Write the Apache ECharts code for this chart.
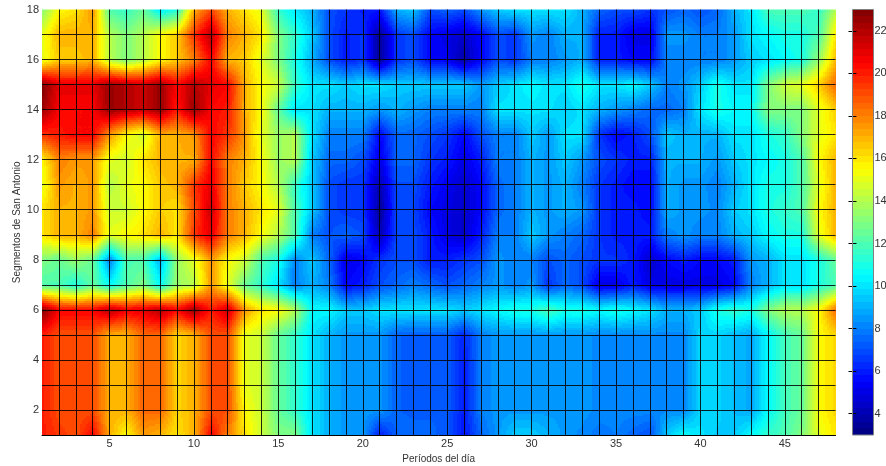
<!DOCTYPE html>
<html><head><meta charset="utf-8">
<style>html,body{margin:0;padding:0;background:#fff}#c{width:886px;height:466px}</style>
<script src="https://cdn.jsdelivr.net/npm/echarts@6/dist/echarts.min.js"></script>
</head><body><div id="c"></div>
<script>
const row1 =[20,19.5,19,20.5,17,15.5,17.5,17,16,17, 20.5,18,16,14.5,13,13,10,9,8.5,8.5, 6,7.5,7.5,7.5,7.2,5.8,7.5,8.5,9.5,9.5, 9,8.5,8.2,7.8,8,7.5,7,9.5,10.5,10, 9.5,9.5,10.5,11.5,12,13,15,16];
const row2 =[20,19,19,19,17,17,18.5,18.5,16.3,17, 19,19,15.5,14.5,12.5,11.5,10,9,8.5,8.5, 8.5,7.4,7.3,7.3,7.3,6,8,8.5,8.5,8.5, 8.5,8.5,8.5,8.2,8.2,8.2,8.2,8.2,8.2,9.7, 9.7,9.2,8.8,10.5,11.8,12.5,15.5,16.3];
const row3 =[20,19,19,19,17,17,18.5,18.5,16.3,17, 19,19,15,14.5,12.5,11.5,10,9,8.5,8.5, 8.5,7.4,7.3,7.3,7.3,6,8,8.5,8.5,8.5, 8.5,8.5,8.5,8.2,8.2,8.2,8.2,8.2,8.2,9.7, 9.7,9.2,8.8,10.5,11.8,12.5,15.5,16.3];
const row4 =[20,19,19,19,17,17,18.5,18.5,16.3,17, 19,19,15,14.5,12.5,11.5,10,9,8.5,8.5, 8.5,7.4,7.3,7.3,7.3,6,8,8.5,8.5,8.5, 8.5,8.5,8.5,8.2,8.2,8.2,8.2,8.2,8.2,9.7, 9.7,9.2,8.8,10.5,11.8,12.5,15.5,16.3];
const row5 =[20,19,19,19,17,17,18.5,18.5,16.3,17, 19,19,15,14.5,12.5,11.5,10,9,8.5,8.5, 8.5,7.4,7.3,7.3,7.3,6.2,8,8.5,8.5,8.5, 8.5,8.5,8.5,8.2,8.2,8.2,8.2,8.2,8.2,9.7, 9.7,9.2,8.8,10.5,11.8,12.5,15.5,16.3];
const row6 =[23,20.5,20.5,20.5,22,20.8,21,22,20.5,22.5, 20,21.5,17.5,16,15.5,14,10.5,10.5,9.5,9.5, 10,10,10,10,10,9.5,10,10.5,11,11, 12,11,11,10.5,11,10.5,10,9,9,9.5, 11,11.5,11,13,14,14,15.5,18.5];
const row7 =[12,12,11,12.5,10.5,12,13,10.5,13.5,14, 17.5,15,12.5,11.5,10,8,9,8,5.5,6, 7,7.5,8,7.5,7,7.5,8,8.5,8,8.5, 6.5,7.5,7,5,5,6,5,5,5,5, 5,5.5,8,9,10,10,11,12];
const row8 =[13,12.5,13.5,12.5,8,12,12,9,13.5,15, 17.5,15.5,14.5,12,11,8,9.5,7.5,5,5.5, 6.5,7,7,6,6,6.5,7,8.5,8,8, 7,7.5,7,6.5,6.5,6,4.5,5.5,6,5.5, 5.5,6,8.5,9,10,10,11,12.5];
const row9 =[16,17,17,18,15,15.5,16,17,16,19.5, 21,18,17,15.5,14,12,8,7,7.5,7, 4,7,7,6,5,4.5,6,8,8,9.5, 8.5,8,7.5,6.5,6,6,6,8,8.5,8, 8,9,9.5,10.5,11,11,15,17];
const row10=[16,17,17,17.5,14.5,14.5,15.5,16.5,16,19, 21.5,18,17,16,15,12,9.5,7,6.5,6.5, 3.5,7,6.8,5.5,5,4.5,5.5,7.5,8,9, 8.5,9,8.5,6.5,6,6,5.5,9,8.5,8.5, 8.2,9.5,10,11,11.5,12,15.5,17];
const row11=[15,17.5,17,17.5,14,15,15.5,16.5,17,19.5, 21,18,16.5,15.5,14,11.5,9.5,7,6.5,6.5, 4,7,7,6,5.2,4.5,5.5,7.5,8,9, 8.5,9,8,6.5,6,5.5,5.5,9,8.5,8.5, 8,9,10,11,11,12,15,17];
const row12=[15.5,18,17.5,17.5,15,14.5,16,17,17,17, 20.5,18,17,15.5,13.5,14,9.5,7.5,7.5,7, 5,7.5,7.5,6.5,6,5,6,8,8,9, 8.5,9.5,8.5,7,6.5,6,6,9,9,9, 8.5,9.5,10,10.5,11,12,15.5,17];
const row13=[19.5,20,20.5,20.5,17.5,15.5,14.5,17,17,17.5, 20.5,19.5,17.5,15,13.5,14,10,8,8,8, 5.5,7.5,7.5,7,6.5,5.5,7,8,8,9.5, 8.5,10,10,6.5,5.5,6,7,9.5,9,9, 9,10,10,11,11.5,13,15,16];
const row14=[22.5,20.5,20.5,20.5,22.5,22,21.5,22.5,20,22.5, 20.5,20,17,15.5,12.5,10,10,9,9,9, 8.5,9,8.5,8,8,8,8,10,10,10, 10,9.5,10,9,8.5,8,7.5,7.5,8,10, 11,10.5,10.5,13,13,13,15,16.5];
const row15=[23,21,21,21,22.5,22,21.5,22.5,20.5,22, 21,20.5,17,15.5,14.5,11.5,10,10,9.5,10, 10,9.5,9.5,9.5,9.5,9.5,8.5,9.5,10,10.5, 10,10,11,10,10,10.5,9.5,8,8.5,9.5, 11,10,10,13,14.5,15,16.5,18.5];
const row16=[15,16.5,16.5,17,14,13,14,15.5,16.5,18, 20.5,17,16.5,15,13,11,9,7,6,6.5, 3.5,6.5,7,5.5,5.3,3.8,5.5,7,6.5,8, 8,8.5,9,6,6,5.5,5.5,8,8,8, 8,8.5,9.5,10,10.5,11,13.5,17];
const row17=[15,17,17,17,14,13,14,15.5,16.5,19.5, 22,18,17,16,13,11.5,9.5,7,6,6.5, 3.5,6.5,7,5.5,5,4.5,5.5,7,6.5,8.5, 8,9,9,6,6,5,5,8.5,8.5,8, 8,8.5,10,10.5,11,11,12,16];
const row18=[13,15.5,16,17.5,12,11.5,12.5,10,11,17, 19,17,16,15,11.5,10,9,7,6.5,6, 6,9,9.5,7,7.5,7,8.5,9.5,10,10, 10,10,9,7.5,7,7,6.5,7,7.5,7, 7.5,9,10,12,12,12,11.5,14];
const rows=[row1,row2,row3,row4,row5,row6,row7,row8,row9,row10,row11,row12,row13,row14,row15,row16,row17,row18];
const periodTicks=[5,10,15,20,25,30,35,40,45];
const segmentTicks=[2,4,6,8,10,12,14,16,18];
const colorTicks=[4,6,8,10,12,14,16,18,20,22];
const xLabel='Períodos del día';
const yLabel='Segmentos de San Antonio';
const cMin=3,cMax=23,levels=64;

function jet(v){
  let t=(v-cMin)/(cMax-cMin);
  t=Math.max(0,Math.min(0.9999,t));
  t=(Math.floor(t*levels)+0.5)/levels;
  const f=(a)=>Math.max(0,Math.min(1,1.5-Math.abs(4*t-a)));
  return 'rgb('+Math.round(255*f(3))+','+Math.round(255*f(2))+','+Math.round(255*f(1))+')';
}
const cells=[];
for(let j=0;j<rows.length-1;j++)for(let i=0;i<47;i++)
  cells.push([i+1,j+1,rows[j][i],rows[j][i+1],rows[j+1][i],rows[j+1][i+1]]);
const colorLevels=[];
for(let k=0;k<levels;k++)colorLevels.push(cMin+(cMax-cMin)*k/levels);

const chart=echarts.init(document.getElementById('c'),null,{renderer:'canvas'});
const font='"Liberation Sans",Arial,sans-serif';
const sub=2;
chart.setOption({
  animation:false,
  backgroundColor:'#fff',
  grid:[
    {left:42,top:9.5,width:793.5,height:425.5,containLabel:false,outerBoundsMode:'none'},
    {left:852.5,top:9.5,width:21,height:425.5,show:true,borderColor:'#808080',borderWidth:1,z:10,outerBoundsMode:'none'}
  ],
  xAxis:[
    {gridIndex:0,type:'value',min:1,max:48,interval:1,z:5,
     name:xLabel,nameLocation:'middle',nameGap:17,nameTextStyle:{fontFamily:font,fontSize:10,color:'#333'},
     axisLine:{show:true,onZero:false,lineStyle:{color:'#000',width:1}},axisTick:{show:false},
     axisLabel:{fontFamily:font,fontSize:11,color:'#333',margin:3,showMinLabel:false,
       formatter:v=>periodTicks.includes(v)?String(v):''},
     splitLine:{show:true,showMinLine:false,showMaxLine:false,lineStyle:{color:'rgba(0,0,0,0.85)',width:1}}},
    {gridIndex:1,type:'value',min:0,max:1,show:false}
  ],
  yAxis:[
    {gridIndex:0,type:'value',min:1,max:18,interval:1,z:5,
     name:yLabel,nameLocation:'middle',nameGap:20,nameMoveOverlap:false,nameTextStyle:{fontFamily:font,fontSize:10,color:'#333'},
     axisLine:{show:false},axisTick:{show:false},
     axisLabel:{fontFamily:font,fontSize:11,color:'#333',margin:3,
       formatter:v=>segmentTicks.includes(v)?String(v):''},
     splitLine:{show:true,showMinLine:false,showMaxLine:false,lineStyle:{color:'rgba(0,0,0,0.85)',width:1}}},
    {gridIndex:1,type:'value',min:cMin,max:cMax,position:'right',z:6,
     axisLine:{show:false},
     axisTick:{show:true,inside:true,length:4,lineStyle:{color:'#000'},customValues:colorTicks},
     axisLabel:{fontFamily:font,fontSize:11,color:'#333',margin:1,customValues:colorTicks},
     splitLine:{show:false}},
    {gridIndex:1,type:'value',min:cMin,max:cMax,position:'left',z:6,
     axisLine:{show:false},
     axisTick:{show:true,inside:true,length:4,lineStyle:{color:'#000'},customValues:colorTicks},
     axisLabel:{show:false},splitLine:{show:false}}
  ],
  series:[
    {type:'custom',xAxisIndex:0,yAxisIndex:0,silent:true,clip:true,z:2,
     data:cells,encode:{x:0,y:1},
     renderItem:function(params,api){
       const i=api.value(0),j=api.value(1);
       const a=api.value(2),b=api.value(3),c=api.value(4),d=api.value(5);
       const p0=api.coord([i,j]),p1=api.coord([i+1,j+1]);
       const x0=Math.round(p0[0]),x1=Math.round(p1[0]),y0=Math.round(p0[1]),y1=Math.round(p1[1]);
       const children=[];
       for(let py=y1;py<y0;py+=sub){
         const hh=Math.min(sub,y0-py);
         const v=(y0-(py+hh/2))/(y0-y1);
         for(let px=x0;px<x1;px+=sub){
           const ww=Math.min(sub,x1-px);
           const u=(px+ww/2-x0)/(x1-x0);
           const val=a*(1-u)*(1-v)+b*u*(1-v)+c*(1-u)*v+d*u*v;
           children.push({type:'rect',silent:true,shape:{x:px,y:py,width:ww,height:hh},style:{fill:jet(val)}});
         }
       }
       return {type:'group',children};
     }},
    {type:'custom',xAxisIndex:1,yAxisIndex:1,silent:true,z:2,
     data:colorLevels.map(v=>[v]),encode:{y:0},
     renderItem:function(params,api){
       const lo=api.value(0),hi=lo+(cMax-cMin)/levels;
       const a=api.coord([0,lo]),b=api.coord([1,hi]);
       const yt=Math.round(b[1]),yb=Math.round(a[1]);
       return {type:'rect',shape:{x:a[0],y:yt,width:b[0]-a[0],height:yb-yt},style:{fill:jet(lo+0.01)}};
     }}
  ]
});
</script></body></html>
